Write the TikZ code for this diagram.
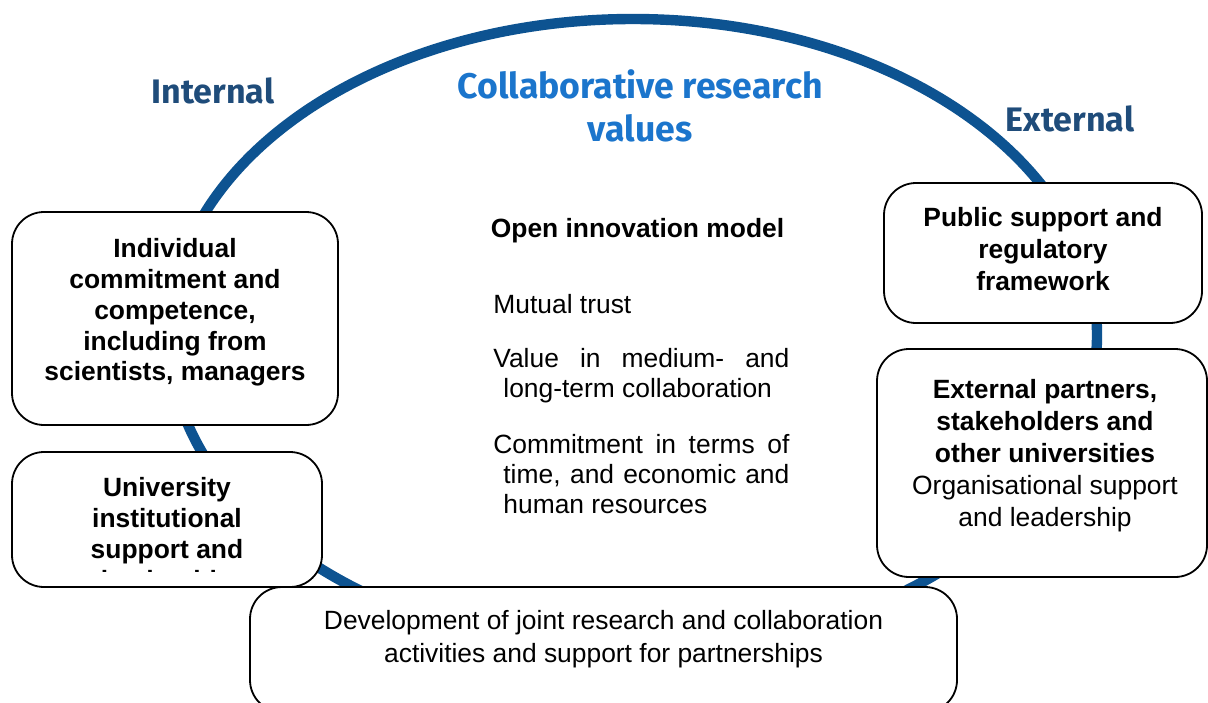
\documentclass[tikz,border=0pt]{standalone}
\usepackage{fontspec}
\setmainfont{Liberation Sans}
\newfontfamily\headfont{Fira Sans}
\usetikzlibrary{positioning}

\definecolor{ringblue}{RGB}{13,83,145}
\definecolor{titleblue}{RGB}{27,117,204}
\definecolor{sideblue}{RGB}{31,76,122}

\tikzset{
  box/.style={draw=black, line width=0.9pt, fill=white, rounded corners=16pt},
  boxtext/.style={align=center, inner sep=0pt, font=\fontsize{13.2}{16}\selectfont\bfseries},
  bodytext/.style={inner sep=0pt, font=\fontsize{13.2}{15}\selectfont},
  head/.style={align=center, inner sep=0pt, font=\headfont\bfseries\fontsize{17}{21.5}\selectfont}
}

\begin{document}
\begin{tikzpicture}[x=0.5pt, y=-0.5pt]
    \useasboundingbox (0,0) rectangle (1208,702);
    \clip (0,0) rectangle (1208,702);

    % the ring behind everything
    \draw[ringblue, line width=5.2pt] (633,335) ellipse [x radius=464, y radius=316];

    % headings
    \node [head, text=sideblue] (internal) at (213,91) {Internal};
    \node [head, text=titleblue, font=\headfont\bfseries\fontsize{17.8}{21.5}\selectfont] (title) at (640,105.5) {Collaborative research\\values};
    \node [head, text=sideblue] (external) at (1070,119) {External};

    % boxes on the ring
    \node [box, minimum width=163pt, minimum height=106.5pt] (indiv) at (175,318.5) {};
    \node [boxtext, font=\fontsize{13.2}{15.4}\selectfont\bfseries] (indivtext) at (175,312.5)
        {Individual\\commitment and\\competence,\\including from\\scientists, managers};

    \node [box, minimum width=155pt, minimum height=67.5pt] (univ) at (167,519.5) {};
    \begin{scope}
        \clip (12,452) rectangle (322,571);
        \node [boxtext, font=\fontsize{13.2}{15.4}\selectfont\bfseries] (univtext) at (167,536)
            {University\\institutional\\support and\\leadership};
    \end{scope}

    \node [box, minimum width=159pt, minimum height=70pt] (public) at (1043,253) {};
    \node [boxtext] (publictext) at (1043,249)
        {Public support and\\regulatory\\framework};

    \node [box, minimum width=165pt, minimum height=114pt] (partners) at (1042,463) {};
    \node [boxtext] (partnerstext) at (1045,456)
        {External partners,\\stakeholders and\\other universities\\\mdseries Organisational support\\\mdseries and leadership};

    \node [box, minimum width=353.5pt, minimum height=62.5pt] (develop) at (603.5,649.5) {};
    \node [boxtext, font=\fontsize{13.2}{16.5}\selectfont] (developtext) at (603.5,639.5)
        {Development of joint research and collaboration\\activities and support for partnerships};

    % values in the middle
    \node [bodytext, font=\fontsize{13.2}{15}\selectfont\bfseries, anchor=base] (openmodel) at (637.5,237.5) {Open innovation model};
    \node [bodytext, anchor=base west] (trust) at (493,313.5) {Mutual trust};
    \node [bodytext, align=left, anchor=north west] (value) at (493,347.5)
        {\makebox[148pt][s]{Value in medium- and}\\\hspace*{5pt}long-term collaboration};
    \node [bodytext, align=left, anchor=north west] (commit) at (493,434)
        {\makebox[148pt][s]{Commitment in terms of}\\\hspace*{5pt}\makebox[143pt][s]{time, and economic and}\\\hspace*{5pt}human resources};
\end{tikzpicture}
\end{document}
